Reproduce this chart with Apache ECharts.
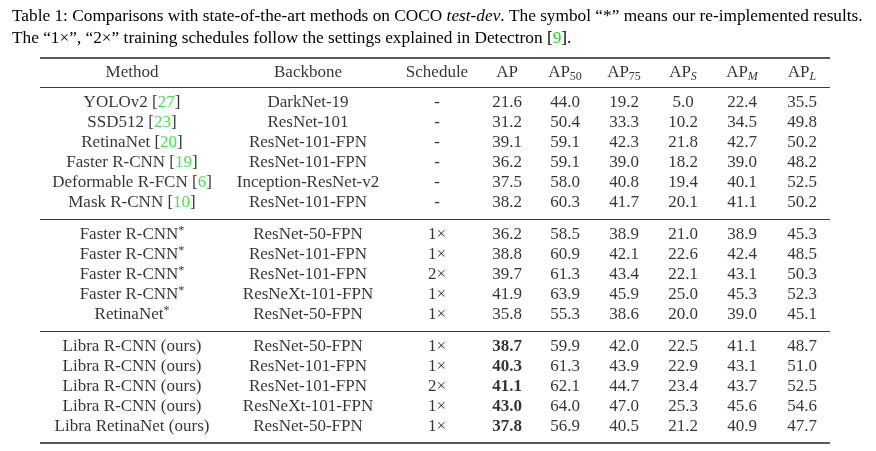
<!DOCTYPE html>
<html>
<head>
<meta charset="utf-8">
<script src="https://cdn.jsdelivr.net/npm/echarts@6/dist/echarts.min.js"></script>
<style>html,body{margin:0;padding:0;background:#fff;}#c{width:876px;height:451px;}</style>
</head>
<body>
<div id="c"></div>
<script>
// ---- data ----
const HEADERS = ['Method', 'Backbone', 'Schedule', 'AP', 'AP{s|50}', 'AP{s|75}', 'AP{si|S}', 'AP{si|M}', 'AP{si|L}'];
const GROUP_SIZES = [6, 5, 5];
const METHODS = ['YOLOv2', 'SSD512', 'RetinaNet', 'Faster R-CNN', 'Deformable R-FCN', 'Mask R-CNN',
  'Faster R-CNN', 'Faster R-CNN', 'Faster R-CNN', 'Faster R-CNN', 'RetinaNet',
  'Libra R-CNN (ours)', 'Libra R-CNN (ours)', 'Libra R-CNN (ours)', 'Libra R-CNN (ours)', 'Libra RetinaNet (ours)'];
const REFS = [27, 23, 20, 19, 6, 10, null, null, null, null, null, null, null, null, null, null];
const REIMPLEMENTED = [false, false, false, false, false, false, true, true, true, true, true, false, false, false, false, false];
const BACKBONES = ['DarkNet-19', 'ResNet-101', 'ResNet-101-FPN', 'ResNet-101-FPN', 'Inception-ResNet-v2', 'ResNet-101-FPN',
  'ResNet-50-FPN', 'ResNet-101-FPN', 'ResNet-101-FPN', 'ResNeXt-101-FPN', 'ResNet-50-FPN',
  'ResNet-50-FPN', 'ResNet-101-FPN', 'ResNet-101-FPN', 'ResNeXt-101-FPN', 'ResNet-50-FPN'];
const SCHEDULES = ['-', '-', '-', '-', '-', '-', '1×', '1×', '2×', '1×', '1×', '1×', '1×', '2×', '1×', '1×'];
const AP   = [21.6, 31.2, 39.1, 36.2, 37.5, 38.2, 36.2, 38.8, 39.7, 41.9, 35.8, 38.7, 40.3, 41.1, 43.0, 37.8];
const AP50 = [44.0, 50.4, 59.1, 59.1, 58.0, 60.3, 58.5, 60.9, 61.3, 63.9, 55.3, 59.9, 61.3, 62.1, 64.0, 56.9];
const AP75 = [19.2, 33.3, 42.3, 39.0, 40.8, 41.7, 38.9, 42.1, 43.4, 45.9, 38.6, 42.0, 43.9, 44.7, 47.0, 40.5];
const APS  = [5.0, 10.2, 21.8, 18.2, 19.4, 20.1, 21.0, 22.6, 22.1, 25.0, 20.0, 22.5, 22.9, 23.4, 25.3, 21.2];
const APM  = [22.4, 34.5, 42.7, 39.0, 40.1, 41.1, 38.9, 42.4, 43.1, 45.3, 39.0, 41.1, 43.1, 43.7, 45.6, 40.9];
const APL  = [35.5, 49.8, 50.2, 48.2, 52.5, 50.2, 45.3, 48.5, 50.3, 52.3, 45.1, 48.7, 51.0, 52.5, 54.6, 47.7];
const BOLD_AP_GROUP = 2;
const CAPTION_REF = 9;

// ---- layout (style constants) ----
const FONT = '"Liberation Serif", "Times New Roman", serif';
const GREEN = '#1fdc1f';
const COL_X = [92, 268, 397, 467, 525, 584, 643, 702, 762]; // column centres, axis units
const HEAD_GAP = 0.725, RULE_GAP = 0.8;

// row positions in row units
const rowY = [];
const rules = [0];
const headerY = HEAD_GAP;
let y = 2 * HEAD_GAP;
rules.push(y);
GROUP_SIZES.forEach(n => {
  y += RULE_GAP;
  for (let i = 0; i < n; i++) { rowY.push(y); if (i < n - 1) y += 1; }
  y += RULE_GAP;
  rules.push(y);
});
const TOTAL = y;

const numCols = [AP, AP50, AP75, APS, APM, APL];
const groupOf = [];
GROUP_SIZES.forEach((n, g) => { for (let i = 0; i < n; i++) groupOf.push(g); });

function cellText(col, r) {
  if (col === 0) {
    let t = METHODS[r];
    if (REFS[r] != null) t += ' [{g|' + REFS[r] + '}]';
    if (REIMPLEMENTED[r]) t += '{sup|*}';
    return t;
  }
  if (col === 1) return BACKBONES[r];
  if (col === 2) return SCHEDULES[r];
  const v = numCols[col - 3][r].toFixed(1);
  if (col === 3 && groupOf[r] === BOLD_AP_GROUP) return '{b|' + v + '}';
  return v;
}

const rich = {
  b: { fontFamily: FONT, fontSize: 17, fontWeight: 'bold', color: '#000', lineHeight: 20 },
  g: { fontFamily: FONT, fontSize: 17, color: GREEN, lineHeight: 20 },
  s: { fontFamily: FONT, fontSize: 12, color: '#000', lineHeight: 12, verticalAlign: 'bottom' },
  si: { fontFamily: FONT, fontSize: 12, fontStyle: 'italic', color: '#000', lineHeight: 12, verticalAlign: 'bottom' },
  sup: { fontFamily: FONT, fontSize: 12, color: '#000', lineHeight: 12, verticalAlign: 'top' },
  i: { fontFamily: FONT, fontSize: 17.3, fontStyle: 'italic', color: '#000', lineHeight: 22 },
  gc: { fontFamily: FONT, fontSize: 17.3, color: GREEN, lineHeight: 22 }
};

const series = HEADERS.map((h, c) => {
  const data = [{ value: [COL_X[c], headerY], text: h }];
  rowY.forEach((ry, r) => data.push({ value: [COL_X[c], ry], text: cellText(c, r) }));
  return {
    type: 'scatter',
    symbolSize: 1,
    itemStyle: { color: 'rgba(0,0,0,0)' },
    silent: true,
    data: data,
    label: {
      show: true, position: 'inside', color: '#000',
      fontFamily: FONT, fontSize: 17, lineHeight: 20,
      formatter: p => p.data.text,
      rich: rich
    },
    labelLayout: { hideOverlap: false }
  };
});

series.push({
  type: 'scatter', data: [], silent: true,
  markLine: {
    silent: true, symbol: 'none', label: { show: false },
    data: rules.map((v, k) => ({
      yAxis: v,
      lineStyle: { color: '#222', type: 'solid', width: (k === 0 || k === rules.length - 1) ? 1.6 : 0.9 }
    }))
  }
});

const chart = echarts.init(document.getElementById('c'), null, { renderer: 'canvas' });
chart.setOption({
  backgroundColor: '#fff',
  animation: false,
  title: {
    left: 7, top: 0,
    text: 'Table 1: Comparisons with state-of-the-art methods on COCO {i|test-dev}. The symbol “*” means our re-implemented results.\nThe “1×”, “2×” training schedules follow the settings explained in Detectron [{gc|' + CAPTION_REF + '}].',
    textStyle: { fontFamily: FONT, fontSize: 17.3, fontWeight: 'normal', color: '#000', lineHeight: 22, rich: rich }
  },
  grid: { left: 40, right: 46, top: 58, bottom: 8 },
  xAxis: { type: 'value', min: 0, max: 790, show: false },
  yAxis: { type: 'value', min: 0, max: TOTAL, inverse: true, show: false },
  series: series
});
</script>
</body>
</html>
